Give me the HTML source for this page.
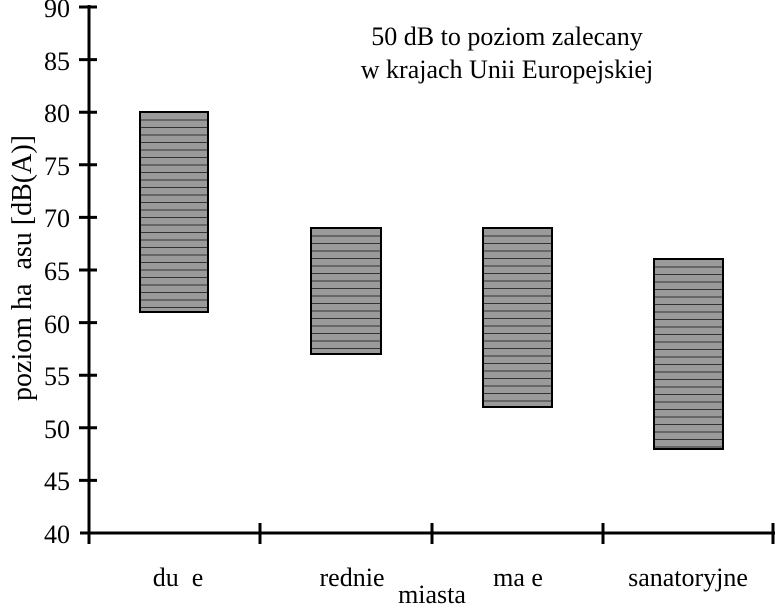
<!DOCTYPE html><html><head><style>
body{margin:0;background:#fff;width:775px;height:609px;overflow:hidden;font-family:"Liberation Serif",serif;}
.bar{position:absolute;border:2px solid #000;box-sizing:border-box;background:repeating-linear-gradient(to bottom,#9a9a9a 0,#9a9a9a 6.5px,#333 6.5px,#333 7.5px);}
</style></head><body>
<svg width="775" height="609" style="position:absolute;left:0;top:0">
<g stroke="#000" stroke-width="3">
<line x1="89" y1="5" x2="89" y2="544"/>
<line x1="80" y1="533" x2="775" y2="533"/>
<line x1="79" y1="7" x2="97" y2="7"/>
<line x1="79" y1="59.6" x2="97" y2="59.6"/>
<line x1="79" y1="112.2" x2="97" y2="112.2"/>
<line x1="79" y1="164.8" x2="97" y2="164.8"/>
<line x1="79" y1="217.4" x2="97" y2="217.4"/>
<line x1="79" y1="270" x2="97" y2="270"/>
<line x1="79" y1="322.6" x2="97" y2="322.6"/>
<line x1="79" y1="375.2" x2="97" y2="375.2"/>
<line x1="79" y1="427.8" x2="97" y2="427.8"/>
<line x1="79" y1="480.4" x2="97" y2="480.4"/>
<line x1="260" y1="523" x2="260" y2="544"/>
<line x1="432" y1="523" x2="432" y2="544"/>
<line x1="603" y1="523" x2="603" y2="544"/>
<line x1="773" y1="523" x2="773" y2="544"/>
</g>
<g font-family="Liberation Serif,serif" font-size="26" text-anchor="end">
<text x="70" y="17">90</text><text x="70" y="70">85</text><text x="70" y="122">80</text><text x="70" y="175">75</text><text x="70" y="227">70</text><text x="70" y="280">65</text><text x="70" y="333">60</text><text x="70" y="385">55</text><text x="70" y="438">50</text><text x="70" y="490">45</text><text x="70" y="543">40</text>
</g>
<text transform="translate(31,268) rotate(-90)" font-family="Liberation Serif,serif" font-size="28" text-anchor="middle">poziom ha&#160; asu [dB(A)]</text>
<g font-family="Liberation Serif,serif" font-size="26" text-anchor="middle">
<text x="178" y="586">du&#160; e</text><text x="352" y="586">rednie</text><text x="518" y="586">ma e</text><text x="688" y="586">sanatoryjne</text>
<text x="432" y="603">miasta</text>
<text x="507" y="45">50 dB to poziom zalecany</text>
<text x="507" y="78">w krajach Unii Europejskiej</text>
</g>
</svg>
<div class="bar" style="left:139px;top:111px;width:70px;height:202px"></div>
<div class="bar" style="left:310px;top:227px;width:72px;height:128px"></div>
<div class="bar" style="left:482px;top:227px;width:71px;height:181px"></div>
<div class="bar" style="left:653px;top:258px;width:71px;height:192px"></div>
</body></html>
